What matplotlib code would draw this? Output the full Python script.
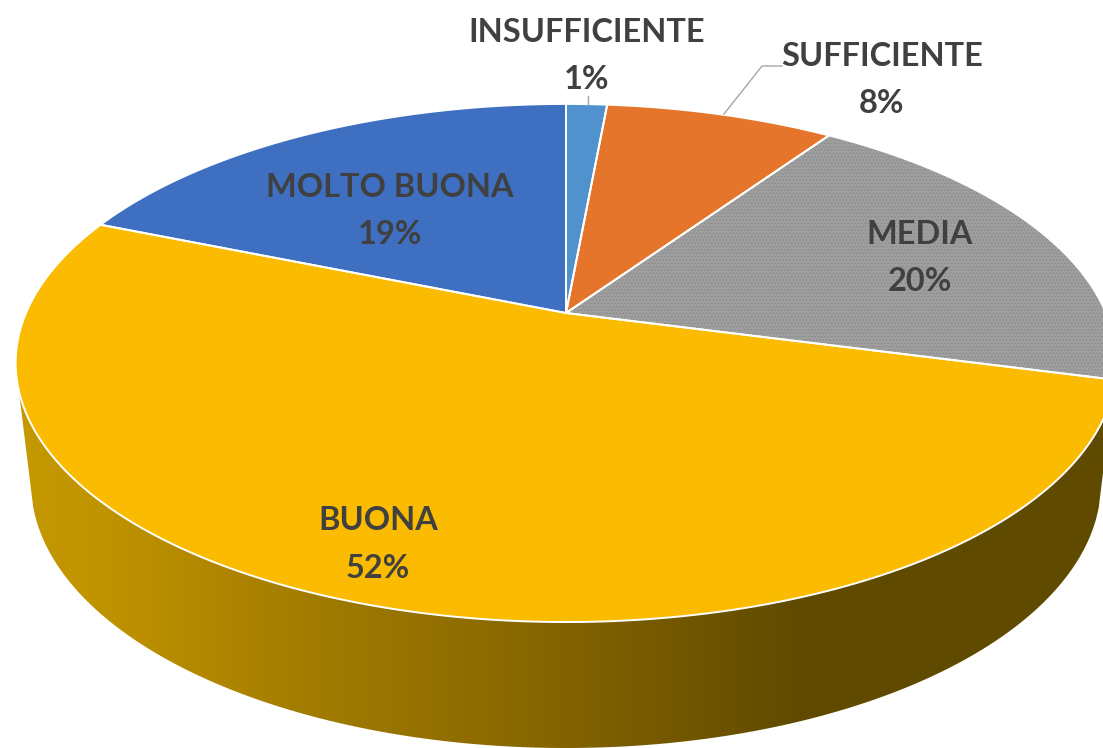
import numpy as np
import matplotlib as mpl
import matplotlib.pyplot as plt
from matplotlib.colors import LinearSegmentedColormap
from matplotlib.patches import Polygon

plt.rcParams['font.family'] = ['Lato', 'DejaVu Sans']
plt.rcParams['hatch.linewidth'] = 0.7

# Data, clockwise from 12 o'clock
categories = ['INSUFFICIENTE', 'SUFFICIENTE', 'MEDIA', 'BUONA', 'MOLTO BUONA']
shares = [1.45, 8.1, 19.55, 52.1, 18.8]
colors = ['#4F92CE', '#E5752B', '#9F9F9F', '#FBBB00', '#3F6FC1']

# Centre of each label block
label_x = [587, 882, 920, 378, 390]
label_y = [32, 56, 234, 521, 187]

# Pie geometry in pixels
CX, CY = 566, 313
RX, RY = 540, 249.4
TILT = 0.193
LOW_CY, LOW_RX, LOW_RY = 483, 535, 265


def rim(t):
	"""Project angles (radians, clockwise from the top) to the tilted rim"""
	w = 1 + TILT * np.cos(t)
	return CX + RX * np.sin(t) / w, CY - RY * np.cos(t) / w


fig = plt.figure(figsize=(11.03, 7.48), dpi=100)
ax = fig.add_axes([0, 0, 1, 1])
ax.set_xlim(0, 1103)
ax.set_ylim(748, 0)
ax.axis('off')

# Side wall: the lower ellipse joined to the top rim, shaded left to right
a = np.linspace(np.pi - 0.09, 0.09, 200)
wall = np.column_stack([LOW_RX * np.cos(a) + CX, LOW_CY + LOW_RY * np.sin(a)])
wall = np.vstack([[19, 392], wall, [1113, 392], [1113, 370], [19, 370]])
wallCmap = LinearSegmentedColormap.from_list('wall', [
	(0.0, '#C69A00'), (0.1, '#BF9200'), (0.28, '#A27C00'),
	(0.5, '#856500'), (0.72, '#614B00'), (1.0, '#5F4A00')])
grad = ax.imshow(np.linspace(0, 1, 512).reshape(1, -1), cmap=wallCmap, aspect='auto',
	extent=(0, 1103, 748, 0), zorder=1)
grad.set_clip_path(Polygon(wall, transform=ax.transData))
ax.set_xlim(0, 1103)
ax.set_ylim(748, 0)

# Top face
edges = np.cumsum([0] + shares) / sum(shares) * 2 * np.pi
for i in range(len(shares)):
	t = np.linspace(edges[i], edges[i + 1], 200)
	x, y = rim(t)
	xs = np.r_[CX, x]
	ys = np.r_[CY, y]
	ax.fill(xs, ys, color=colors[i], lw=0, zorder=2)
	if categories[i] == 'MEDIA':
		ax.fill(xs, ys, facecolor='none', edgecolor='#8A8A8A', hatch='.....', lw=0, zorder=3)
	ax.fill(xs, ys, facecolor='none', edgecolor='white', lw=1.4, zorder=4)

# Leader lines
ax.plot([782, 762, 724], [66, 66, 114], color='#A6A6A6', lw=1.0, zorder=5)
ax.plot([588, 588], [96, 104], color='#A6A6A6', lw=1.0, zorder=5)

# Labels
for i in range(len(shares)):
	ax.text(label_x[i], label_y[i], categories[i], ha='center', va='center',
		fontsize=23.4, fontweight='bold', color='#404040', zorder=6)
	ax.text(label_x[i], label_y[i] + 47, '{:.0f}%'.format(shares[i]), ha='center', va='center',
		fontsize=23.4, fontweight='bold', color='#404040', zorder=6)

fig.savefig('out.png', dpi=100)
